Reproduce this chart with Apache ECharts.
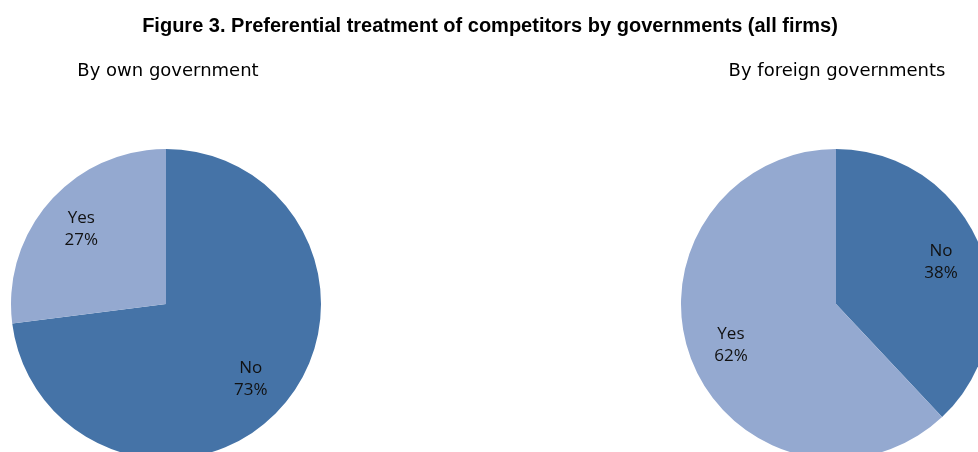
<!DOCTYPE html>
<html>
<head>
<meta charset="utf-8">
<script src="https://cdn.jsdelivr.net/npm/echarts@6/dist/echarts.min.js"></script>
<style>
  html, body { margin: 0; padding: 0; background: #fff; }
  #chart { width: 978px; height: 452px; }
</style>
</head>
<body>
<div id="chart"></div>
<script>
// 数据
const titleText = "Figure 3. Preferential treatment of competitors by governments (all firms)";
const pieTitles = ["By own government", "By foreign governments"];
const categories = ["No", "Yes"];
const ownGov = [73, 27];
const foreignGov = [38, 62];

const colors = ["#4573a7", "#94a9d0"];

const toData = (vals) => categories.map((name, i) => ({ name, value: vals[i] }));

const chart = echarts.init(document.getElementById("chart"));

// 饼图本体
const pieSeries = (center, vals) => ({
  type: "pie",
  center,
  radius: [0, 155],
  startAngle: 90,
  clockwise: true,
  silent: true,
  label: { show: false },
  labelLine: { show: false },
  itemStyle: {
    color: (p) => colors[p.dataIndex],
  },
  emphasis: { disabled: true },
  data: toData(vals),
});

// 透明的标签层（把标签放在约0.7倍半径处）
const labelSeries = (center, vals) => ({
  type: "pie",
  center,
  radius: [0, 220],
  startAngle: 90,
  clockwise: true,
  silent: true,
  z: 5,
  itemStyle: { color: "rgba(0,0,0,0)" },
  emphasis: { disabled: true },
  label: {
    show: true,
    position: "inside",
    formatter: "{b}\n{c}%",
    color: "#111",
    fontFamily: "Open Sans",
    fontSize: 17,
    lineHeight: 22,
  },
  labelLine: { show: false },
  data: toData(vals),
});

const subStyle = { fontFamily: "DejaVu Sans", fontWeight: "normal", fontSize: 18, color: "#000" };

const option = {
  animation: false,
  title: [
    {
      text: titleText,
      left: 485,
      top: 11,
      textAlign: "center",
      textStyle: {
        fontFamily: "Liberation Sans",
        fontWeight: "bold",
        fontSize: 20,
        color: "#000",
      },
    },
    { text: pieTitles[0], left: 163, top: 57, textAlign: "center", textStyle: subStyle },
    { text: pieTitles[1], left: 832, top: 57, textAlign: "center", textStyle: subStyle },
  ],
  series: [
    pieSeries([166, 304], ownGov),
    pieSeries([836, 304], foreignGov),
    labelSeries([166, 304], ownGov),
    labelSeries([836, 304], foreignGov),
  ],
};

chart.setOption(option);
window.addEventListener("resize", () => chart.resize());
</script>
</body>
</html>
